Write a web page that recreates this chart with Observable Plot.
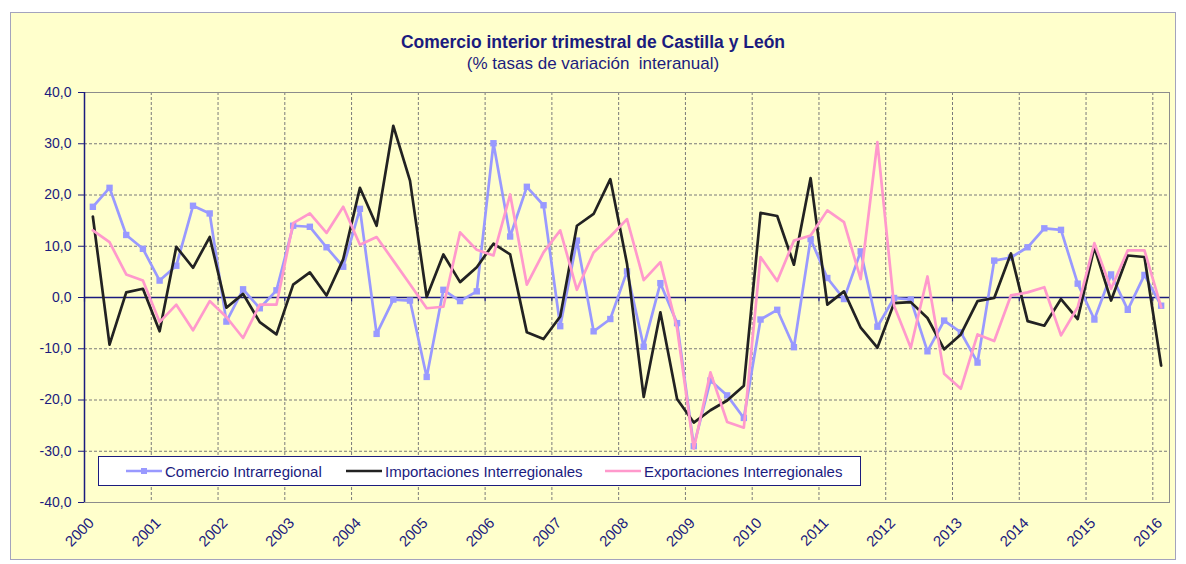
<!DOCTYPE html>
<html><head><meta charset="utf-8">
<script src="https://cdn.jsdelivr.net/npm/d3@7"></script>
<script src="https://cdn.jsdelivr.net/npm/@observablehq/plot@0.6"></script>
<style>
body{margin:0;background:#fff;font-family:"Liberation Sans",Arial,sans-serif;}
#wrap{position:relative;width:1186px;height:564px;overflow:hidden;}
#bg{position:absolute;left:10px;top:12px;width:1164px;height:546px;background:#FFFFCC;border:1px solid #A3A3BD;}
.t{position:absolute;left:0;width:1186px;text-align:center;color:#1b1b7e;white-space:pre;line-height:1;}
#title{top:34px;font-weight:bold;font-size:17.5px;}
#subtitle{top:55px;font-size:17px;}
#chart{position:absolute;left:0;top:0;}
#legend{position:absolute;left:98px;top:456px;width:761px;height:28px;background:#fff;border:1.5px solid #1b1b7e;}
.li{position:absolute;top:0;height:28px;display:flex;align-items:center;font-size:15px;color:#1b1b7e;white-space:nowrap;}
.li svg{margin-right:3px;}
</style></head>
<body>
<div id="wrap">
  <div id="bg"></div>
  <div id="chart"></div>
  <div class="t" id="title"></div>
  <div class="t" id="subtitle"></div>
  <div id="legend"></div>
</div>
<script>
const titleText = "Comercio interior trimestral de Castilla y León";
const subtitleText = "(% tasas de variación  interanual)";
const seriesNames = ["Comercio Intrarregional", "Importaciones Interregionales", "Exportaciones Interregionales"];
const seriesColors = ["#9999FF", "#222222", "#FF99CC"];
const startYear = 2000;
const yearTicks = [2000,2001,2002,2003,2004,2005,2006,2007,2008,2009,2010,2011,2012,2013,2014,2015,2016];
const yTicks = [-40,-30,-20,-10,0,10,20,30,40];

// Quarterly values, 2000 T1 .. 2016 T1
const comercio = [17.7,21.4,12.2,9.5, 3.3,6.2,17.9,16.4, -4.7,1.6,-2.1,1.4, 14.0,13.8,9.8,6.0,
  17.3,-7.1,-0.4,-0.6, -15.5,1.5,-0.7,1.2, 30.1,11.9,21.6,18.0, -5.6,11.1,-6.6,-4.2,
  5.1,-9.6,2.8,-5.0, -29.0,-16.2,-19.1,-23.5, -4.3,-2.4,-9.7,11.4, 3.8,-0.3,9.0,-5.7,
  -0.1,-0.4,-10.5,-4.5, -6.8,-12.7,7.2,7.8, 9.8,13.5,13.2,2.7, -4.3,4.5,-2.4,4.4, -1.6];
const importaciones = [15.8,-9.2,1.0,1.7, -6.6,9.9,5.8,11.8, -2.0,0.7,-4.8,-7.2, 2.5,4.9,0.4,7.5,
  21.4,14.0,33.5,22.8, 0.1,8.4,3.0,5.9, 10.5,8.4,-6.8,-8.1, -3.7,14.0,16.3,23.1,
  6.6,-19.4,-2.9,-19.8, -24.4,-22.0,-20.1,-17.2, 16.5,15.9,6.4,23.3, -1.4,1.2,-5.9,-9.8,
  -1.1,-0.9,-4.0,-10.1, -7.2,-0.7,-0.1,8.6, -4.6,-5.5,-0.3,-4.2, 9.8,-0.6,8.2,7.9, -13.3];
const exportaciones = [13.1,10.8,4.5,3.3, -4.8,-1.4,-6.4,-0.7, -3.8,-7.9,-1.4,-1.4, 14.5,16.4,12.6,17.7,
  10.3,11.8,7.2,2.6, -2.1,-1.8,12.7,9.3, 8.2,20.1,2.5,8.8, 13.1,1.5,8.8,11.9,
  15.3,3.4,6.9,-6.0, -29.5,-14.6,-24.3,-25.4, 7.9,3.2,11.1,12.1, 17.0,14.7,3.6,30.3,
  -1.6,-9.8,4.1,-14.9, -17.8,-7.2,-8.5,0.4, 1.0,2.0,-7.4,-1.9, 10.6,1.7,9.2,9.2, -1.9];

const navy = "#1b1b7e";
const rows = vals => vals.map((v, i) => ({t: startYear + (i + 0.5) / 4, v}));
const fmt = d => d.toFixed(1).replace(".", ",");
const dash = {stroke: "#7a7a7a", strokeDasharray: "3,2", strokeWidth: 1};

const chart = Plot.plot({
  width: 1186, height: 564,
  marginLeft: 84, marginRight: 17, marginTop: 92, marginBottom: 62,
  style: {background: "transparent", color: navy, fontFamily: "'Liberation Sans', Arial, sans-serif", overflow: "visible"},
  x: {domain: [2000, 2016.25]},
  y: {domain: [-40, 40]},
  marks: [
    Plot.ruleY(yTicks.filter(d => d !== 0 && Math.abs(d) !== 40), dash),
    Plot.ruleX(yearTicks.filter(d => d !== 2000), dash),
    Plot.frame({stroke: "#8c8c8c"}),
    Plot.ruleY([0], {stroke: navy, strokeWidth: 1.5}),
    Plot.ruleX(yearTicks, {y1: 0, y2: -0.9, stroke: navy, strokeWidth: 1.2}),
    Plot.ruleX([2000], {stroke: navy, strokeWidth: 1.5}),
    Plot.axisY({ticks: yTicks, tickFormat: fmt, tickSize: 6, tickPadding: 7, fontSize: 14, label: null, stroke: navy, fill: navy}),
    Plot.axisX({ticks: yearTicks, tickFormat: d => String(d), tickRotate: -45, tickSize: 0, tickPadding: 0, fontSize: 15, dx: 7, dy: 18, label: null, fill: navy}),
    Plot.line(rows(comercio), {x: "t", y: "v", stroke: seriesColors[0], strokeWidth: 2.7}),
    Plot.dot(rows(comercio), {x: "t", y: "v", symbol: "square", r: 3.6, fill: seriesColors[0]}),
    Plot.line(rows(importaciones), {x: "t", y: "v", stroke: seriesColors[1], strokeWidth: 2.7}),
    Plot.line(rows(exportaciones), {x: "t", y: "v", stroke: seriesColors[2], strokeWidth: 2.7})
  ]
});
document.getElementById("chart").appendChild(chart);
document.getElementById("title").textContent = titleText;
document.getElementById("subtitle").textContent = subtitleText;

const legendLeft = [27, 247, 506];
const legend = document.getElementById("legend");
seriesNames.forEach((name, i) => {
  const div = document.createElement("div");
  div.className = "li";
  div.style.left = legendLeft[i] + "px";
  const marker = i === 0 ? `<rect x="15" y="2" width="6" height="6" fill="${seriesColors[0]}"/>` : "";
  div.innerHTML = `<svg width="36" height="10"><line x1="0" y1="5" x2="36" y2="5" stroke="${seriesColors[i]}" stroke-width="2.5"/>${marker}</svg><span>${name}</span>`;
  legend.appendChild(div);
});
</script>
</body></html>
